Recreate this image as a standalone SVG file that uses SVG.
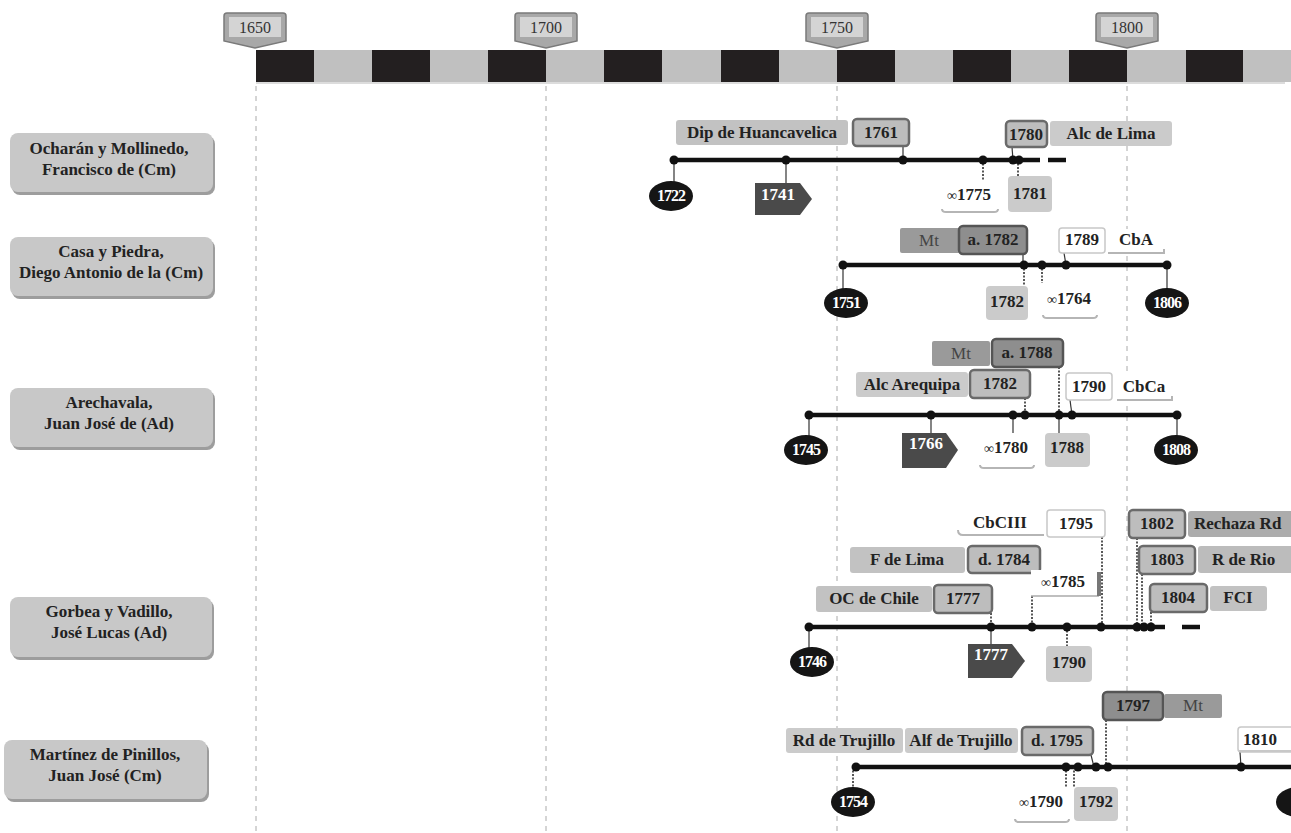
<svg xmlns="http://www.w3.org/2000/svg" width="1291" height="833" viewBox="0 0 1291 833" font-family="'Liberation Serif', 'Times New Roman', 'DejaVu Serif', serif">
<style>
text{font-family:'Liberation Serif','Times New Roman','DejaVu Serif',serif;font-weight:bold;font-size:17px;fill:#222;text-anchor:middle}
.nm{font-size:17px}
.tag{font-weight:normal;font-size:16px;fill:#333}
.w{fill:#fff}
.el{font-size:16px;letter-spacing:-1px}
.st{text-anchor:start}
.mt{fill:#444;font-weight:normal}
.inf{font-size:14px;font-weight:normal}
.lg{fill:#cbcbcb}
.lg2{fill:#c2c2c2}
.md{fill:#9a9a9a}
.bx{fill:#bdbdbd;stroke:#6a6a6a;stroke-width:2.5}
.dk{fill:#8e8e8e;stroke:#555;stroke-width:2.5}
.wb{fill:#fff;stroke:#c8c8c8;stroke-width:1.5}
.wh{fill:#fff}
.sh{stroke:#b5b5b5;stroke-width:2;fill:none}
.ln{stroke:#111;stroke-width:4.5}
.dot{fill:#111}
.c{stroke:#333;stroke-width:1.2}
.cd{stroke:#222;stroke-width:1.5;stroke-dasharray:2 1.5}
.grid{stroke:#aaa;stroke-width:1;stroke-dasharray:5 5}
.ell{fill:#151515}
.arr{fill:#4a4a4a}
.nb{fill:#c8c8c8}
.nbs{fill:#9d9d9d}
</style>

<g id="axis">
<rect x="256" y="50" width="1035" height="32" fill="#c0c0c0"/>
<g fill="#231f20">
<rect x="256" y="50" width="58" height="32"/>
<rect x="372" y="50" width="58" height="32"/>
<rect x="488" y="50" width="58" height="32"/>
<rect x="604" y="50" width="58" height="32"/>
<rect x="721" y="50" width="58" height="32"/>
<rect x="837" y="50" width="58" height="32"/>
<rect x="953" y="50" width="58" height="32"/>
<rect x="1069" y="50" width="58" height="32"/>
<rect x="1186" y="50" width="57" height="32"/>
</g>
<line x1="256" y1="83" x2="1285" y2="83" stroke="#d0d0d0" stroke-width="1.5"/>
<g class="grid">
<line x1="256" y1="86" x2="256" y2="833"/>
<line x1="546" y1="86" x2="546" y2="833"/>
<line x1="837" y1="86" x2="837" y2="833"/>
<line x1="1127" y1="86" x2="1127" y2="833"/>
</g>
<g id="tag1650"><path d="M224,16 Q224,13 227,13 L283,13 Q286,13 286,16 L286,41 L255,48 L224,41 Z" fill="#a8a8a8" stroke="#7a7a7a" stroke-width="1.5"/><rect x="229" y="17" width="52" height="20" fill="#d4d4d4"/><text class="tag" x="255" y="33">1650</text></g>
<g id="tag1700"><path d="M515,16 Q515,13 518,13 L574,13 Q577,13 577,16 L577,41 L546,48 L515,41 Z" fill="#a8a8a8" stroke="#7a7a7a" stroke-width="1.5"/><rect x="520" y="17" width="52" height="20" fill="#d4d4d4"/><text class="tag" x="546" y="33">1700</text></g>
<g id="tag1750"><path d="M806,16 Q806,13 809,13 L865,13 Q868,13 868,16 L868,41 L837,48 L806,41 Z" fill="#a8a8a8" stroke="#7a7a7a" stroke-width="1.5"/><rect x="811" y="17" width="52" height="20" fill="#d4d4d4"/><text class="tag" x="837" y="33">1750</text></g>
<g id="tag1800"><path d="M1096,16 Q1096,13 1099,13 L1155,13 Q1158,13 1158,16 L1158,41 L1127,48 L1096,41 Z" fill="#a8a8a8" stroke="#7a7a7a" stroke-width="1.5"/><rect x="1101" y="17" width="52" height="20" fill="#d4d4d4"/><text class="tag" x="1127" y="33">1800</text></g>
</g>

<g id="name1">
<rect class="nbs" x="12" y="136" width="203" height="59" rx="8"/>
<rect class="nb" x="10" y="133" width="203" height="59" rx="8"/>
<text class="nm" x="109" y="154">Ocharán y Mollinedo,</text>
<text class="nm" x="109" y="175">Francisco de (Cm)</text>
</g>
<g id="name2">
<rect class="nbs" x="12" y="240" width="203" height="59" rx="8"/>
<rect class="nb" x="10" y="237" width="203" height="59" rx="8"/>
<text class="nm" x="111" y="257">Casa y Piedra,</text>
<text class="nm" x="111" y="278">Diego Antonio de la (Cm)</text>
</g>
<g id="name3">
<rect class="nbs" x="12" y="391" width="203" height="59" rx="8"/>
<rect class="nb" x="10" y="388" width="203" height="59" rx="8"/>
<text class="nm" x="109" y="408">Arechavala,</text>
<text class="nm" x="109" y="429">Juan José de (Ad)</text>
</g>
<g id="name4">
<rect class="nbs" x="12" y="600" width="202" height="60" rx="8"/>
<rect class="nb" x="10" y="597" width="202" height="60" rx="8"/>
<text class="nm" x="109" y="617">Gorbea y Vadillo,</text>
<text class="nm" x="109" y="638">José Lucas (Ad)</text>
</g>
<g id="name5">
<rect class="nbs" x="6" y="743" width="203" height="59" rx="8"/>
<rect class="nb" x="4" y="740" width="203" height="59" rx="8"/>
<text class="nm" x="105" y="760">Martínez de Pinillos,</text>
<text class="nm" x="105" y="781">Juan José (Cm)</text>
</g>

<g id="connectors">
<line class="ln" x1="674" y1="160" x2="1040" y2="160"/>
<line class="ln" x1="1048" y1="160" x2="1066" y2="160"/>
<line class="c" x1="674" y1="160" x2="674" y2="182"/>
<line class="c" x1="786" y1="160" x2="786" y2="184"/>
<line class="c" x1="903" y1="146" x2="903" y2="160"/>
<line class="c" x1="1012" y1="147" x2="1013" y2="160"/>
<line class="cd" x1="983" y1="160" x2="983" y2="180"/>
<line class="cd" x1="1018" y1="160" x2="1018" y2="176"/>
<line class="ln" x1="843" y1="265" x2="1167" y2="265"/>
<line class="c" x1="843" y1="265" x2="843" y2="290"/>
<line class="c" x1="1023" y1="254" x2="1023" y2="265"/>
<line class="cd" x1="1024" y1="265" x2="1024" y2="286"/>
<line class="cd" x1="1042" y1="265" x2="1042" y2="283"/>
<line class="c" x1="1064" y1="253" x2="1066" y2="265"/>
<line class="c" x1="1167" y1="265" x2="1167" y2="290"/>
<line class="ln" x1="809" y1="415" x2="1177" y2="415"/>
<line class="c" x1="809" y1="415" x2="809" y2="438"/>
<line class="c" x1="931" y1="415" x2="931" y2="433"/>
<line class="c" x1="1013" y1="415" x2="1013" y2="433"/>
<line class="cd" x1="1025" y1="398" x2="1025" y2="415"/>
<line class="cd" x1="1059" y1="367" x2="1059" y2="415"/>
<line class="c" x1="1059" y1="415" x2="1059" y2="433"/>
<line class="c" x1="1070" y1="400" x2="1072" y2="415"/>
<line class="c" x1="1177" y1="415" x2="1177" y2="438"/>
<line class="ln" x1="809" y1="627" x2="1165" y2="627"/>
<line class="ln" x1="1182" y1="627" x2="1200" y2="627"/>
<line class="c" x1="809" y1="627" x2="809" y2="650"/>
<line class="cd" x1="991" y1="613" x2="991" y2="627"/>
<line class="c" x1="991" y1="627" x2="991" y2="644"/>
<line class="cd" x1="1032" y1="596" x2="1032" y2="627"/>
<line class="cd" x1="1067" y1="627" x2="1067" y2="646"/>
<line class="cd" x1="1102" y1="537" x2="1102" y2="627"/>
<line class="cd" x1="1137" y1="538" x2="1137" y2="627"/>
<line class="cd" x1="1142" y1="574" x2="1142" y2="627"/>
<line class="cd" x1="1151" y1="612" x2="1151" y2="627"/>
<line class="ln" x1="856" y1="767" x2="1291" y2="767"/>
<line class="cd" x1="853" y1="767" x2="853" y2="792"/>
<line class="cd" x1="1066" y1="767" x2="1066" y2="787"/>
<line class="cd" x1="1074" y1="767" x2="1074" y2="787"/>
<line class="c" x1="1091" y1="755" x2="1094" y2="767"/>
<line class="cd" x1="1106" y1="720" x2="1106" y2="767"/>
<line class="c" x1="1240" y1="752" x2="1241" y2="767"/>
</g>

<g id="dots">
<circle class="dot" cx="674" cy="160" r="4.5"/><circle class="dot" cx="786" cy="160" r="4.5"/><circle class="dot" cx="903" cy="160" r="4.5"/><circle class="dot" cx="983" cy="160" r="4.5"/><circle class="dot" cx="1013" cy="160" r="4.5"/><circle class="dot" cx="1019" cy="160" r="4.5"/>
<circle class="dot" cx="843" cy="265" r="4.5"/><circle class="dot" cx="1024" cy="265" r="4.5"/><circle class="dot" cx="1042" cy="265" r="4.5"/><circle class="dot" cx="1066" cy="265" r="4.5"/><circle class="dot" cx="1167" cy="265" r="4.5"/>
<circle class="dot" cx="809" cy="415" r="4.5"/><circle class="dot" cx="931" cy="415" r="4.5"/><circle class="dot" cx="1013" cy="415" r="4.5"/><circle class="dot" cx="1025" cy="415" r="4.5"/><circle class="dot" cx="1059" cy="415" r="4.5"/><circle class="dot" cx="1072" cy="415" r="4.5"/><circle class="dot" cx="1177" cy="415" r="4.5"/>
<circle class="dot" cx="809" cy="627" r="4.5"/><circle class="dot" cx="991" cy="627" r="4.5"/><circle class="dot" cx="1032" cy="627" r="4.5"/><circle class="dot" cx="1067" cy="627" r="4.5"/><circle class="dot" cx="1101" cy="627" r="4.5"/><circle class="dot" cx="1137" cy="627" r="4.5"/><circle class="dot" cx="1144" cy="627" r="4.5"/><circle class="dot" cx="1151" cy="627" r="4.5"/>
<circle class="dot" cx="856" cy="767" r="4.5"/><circle class="dot" cx="1066" cy="767" r="4.5"/><circle class="dot" cx="1078" cy="767" r="4.5"/><circle class="dot" cx="1096" cy="767" r="4.5"/><circle class="dot" cx="1108" cy="767" r="4.5"/><circle class="dot" cx="1241" cy="767" r="4.5"/>
</g>

<g id="r1-dip"><rect class="lg2" x="676" y="120" width="172" height="25" rx="3"/><text x="762" y="138">Dip de Huancavelica</text></g>
<g id="r1-1761"><rect class="bx" x="853" y="119" width="56" height="27" rx="4"/><text x="881" y="138">1761</text></g>
<g id="r1-1780"><rect class="bx" x="1006" y="121" width="41" height="26" rx="4"/><text x="1026" y="140">1780</text></g>
<g id="r1-alc"><rect class="lg" x="1050" y="121" width="122" height="25" rx="3"/><text x="1111" y="139">Alc de Lima</text></g>
<g id="r1-1722"><ellipse class="ell" cx="671" cy="196" rx="22" ry="15"/><text class="w el" x="671" y="201">1722</text></g>
<g id="r1-1741"><polygon class="arr" points="755,183 800,183 812,199 800,215 755,215"/><text class="w" x="778" y="200">1741</text></g>
<g id="r1-m1775"><rect class="wh" x="940" y="180" width="58" height="30" rx="3"/><path class="sh" d="M942,209 Q942,212 946,212 L994,212 Q998,212 998,209"/><text x="969" y="200"><tspan class="inf">∞</tspan>1775</text></g>
<g id="r1-1781"><rect class="lg" x="1008" y="176" width="44" height="36" rx="4"/><text x="1030" y="199">1781</text></g>

<g id="r2-mt"><rect class="md" x="900" y="228" width="60" height="25" rx="2"/><text class="mt" x="929" y="246">Mt</text></g>
<g id="r2-a1782"><rect class="dk" x="959" y="226" width="68" height="28" rx="4"/><text x="993" y="245">a. 1782</text></g>
<g id="r2-1789"><rect class="wb" x="1059" y="228" width="46" height="25" rx="3"/><text x="1082" y="245">1789</text></g>
<g id="r2-cba"><rect class="wh" x="1108" y="229" width="56" height="24"/><path class="sh" d="M1108,253 L1164,253 L1164,249"/><text x="1136" y="245">CbA</text></g>
<g id="r2-1751"><ellipse class="ell" cx="846" cy="303" rx="22" ry="15"/><text class="w el" x="846" y="308">1751</text></g>
<g id="r2-1782"><rect class="lg" x="986" y="286" width="42" height="34" rx="4"/><text x="1007" y="307">1782</text></g>
<g id="r2-m1764"><rect class="wh" x="1041" y="283" width="56" height="34" rx="3"/><path class="sh" d="M1043,315 Q1043,318 1047,318 L1093,318 Q1097,318 1097,315"/><text x="1069" y="304"><tspan class="inf">∞</tspan>1764</text></g>
<g id="r2-1806"><ellipse class="ell" cx="1167" cy="303" rx="22" ry="15"/><text class="w el" x="1167" y="308">1806</text></g>

<g id="r3-mt"><rect class="md" x="932" y="341" width="58" height="25" rx="2"/><text class="mt" x="961" y="359">Mt</text></g>
<g id="r3-a1788"><rect class="dk" x="992" y="339" width="71" height="28" rx="4"/><text x="1027" y="358">a. 1788</text></g>
<g id="r3-alc"><rect class="lg" x="856" y="372" width="112" height="25" rx="3"/><text x="912" y="390">Alc Arequipa</text></g>
<g id="r3-1782"><rect class="bx" x="970" y="370" width="60" height="28" rx="4"/><text x="1000" y="389">1782</text></g>
<g id="r3-1790"><rect class="wb" x="1066" y="373" width="46" height="27" rx="3"/><text x="1089" y="392">1790</text></g>
<g id="r3-cbca"><rect class="wh" x="1117" y="375" width="55" height="25"/><path class="sh" d="M1117,400 L1172,400 L1172,396"/><text x="1144" y="392">CbCa</text></g>
<g id="r3-1745"><ellipse class="ell" cx="806" cy="450" rx="22" ry="15"/><text class="w el" x="806" y="455">1745</text></g>
<g id="r3-1766"><polygon class="arr" points="902,433 946,433 958,450 946,468 902,468"/><text class="w" x="926" y="449">1766</text></g>
<g id="r3-m1780"><rect class="wh" x="978" y="433" width="56" height="34" rx="3"/><path class="sh" d="M980,465 Q980,468 984,468 L1030,468 Q1034,468 1034,465"/><text x="1006" y="453"><tspan class="inf">∞</tspan>1780</text></g>
<g id="r3-1788"><rect class="lg" x="1045" y="433" width="45" height="34" rx="4"/><text x="1067" y="453">1788</text></g>
<g id="r3-1808"><ellipse class="ell" cx="1176" cy="450" rx="22" ry="15"/><text class="w el" x="1176" y="455">1808</text></g>

<g id="r4-cbciii"><rect class="wh" x="958" y="511" width="86" height="24"/><path class="sh" d="M958,530 Q958,535 963,535 L1044,535"/><text x="1000" y="528">CbCIII</text></g>
<g id="r4-1795"><rect class="wb" x="1047" y="510" width="58" height="27" rx="3"/><text x="1076" y="529">1795</text></g>
<g id="r4-flima"><rect class="lg2" x="850" y="547" width="115" height="26" rx="3"/><text x="907" y="565">F de Lima</text></g>
<g id="r4-d1784"><rect class="bx" x="968" y="546" width="72" height="27" rx="4"/><text x="1004" y="565">d. 1784</text></g>
<g id="r4-m1785"><rect class="wh" x="1031" y="570" width="68" height="26"/><path d="M1031,596 L1099,596" stroke="#aaa" stroke-width="1.5"/><rect x="1097" y="572" width="4" height="24" fill="#777"/><text x="1063" y="587"><tspan class="inf">∞</tspan>1785</text></g>
<g id="r4-occhile"><rect class="lg2" x="816" y="586" width="116" height="26" rx="3"/><text x="874" y="604">OC de Chile</text></g>
<g id="r4-1777"><rect class="bx" x="934" y="585" width="58" height="28" rx="4"/><text x="963" y="604">1777</text></g>
<g id="r4-1802"><rect class="bx" x="1129" y="510" width="56" height="28" rx="4"/><text x="1157" y="529">1802</text></g>
<g id="r4-rechaza"><rect fill="#acacac" x="1188" y="511" width="110" height="26" rx="3"/><text class="st" x="1194" y="529">Rechaza Rd</text></g>
<g id="r4-1803"><rect class="bx" x="1139" y="546" width="56" height="28" rx="4"/><text x="1167" y="565">1803</text></g>
<g id="r4-rrio"><rect fill="#bcbcbc" x="1198" y="546" width="100" height="27" rx="3"/><text class="st" x="1212" y="565">R de Rio</text></g>
<g id="r4-1804"><rect class="bx" x="1150" y="584" width="57" height="28" rx="4"/><text x="1178" y="603">1804</text></g>
<g id="r4-fci"><rect class="lg2" x="1210" y="586" width="57" height="25" rx="3"/><text x="1238" y="603">FCI</text></g>
<g id="r4-1746"><ellipse class="ell" cx="812" cy="662" rx="22" ry="15"/><text class="w el" x="812" y="667">1746</text></g>
<g id="r4-1777b"><polygon class="arr" points="968,644 1012,644 1025,661 1012,678 968,678"/><text class="w" x="991" y="660">1777</text></g>
<g id="r4-1790"><rect class="lg" x="1046" y="646" width="46" height="36" rx="4"/><text x="1069" y="668">1790</text></g>

<g id="r5-1797"><rect class="dk" x="1103" y="692" width="60" height="28" rx="4"/><text x="1133" y="711">1797</text></g>
<g id="r5-mt"><rect class="md" x="1164" y="694" width="58" height="24" rx="2"/><text class="mt" x="1193" y="711">Mt</text></g>
<g id="r5-rd"><rect class="lg" x="786" y="728" width="117" height="25" rx="3"/><text x="844" y="746">Rd de Trujillo</text></g>
<g id="r5-alf"><rect class="lg" x="905" y="728" width="113" height="25" rx="3"/><text x="961" y="746">Alf de Trujillo</text></g>
<g id="r5-d1795"><rect class="bx" x="1022" y="727" width="71" height="28" rx="4"/><text x="1057" y="746">d. 1795</text></g>
<g id="r5-1810"><rect class="wb" x="1238" y="727" width="60" height="25" rx="3"/><path d="M1239,751 L1291,751" stroke="#c8c8c8" stroke-width="2"/><text class="st" x="1243" y="745">1810</text></g>
<g id="r5-1754"><ellipse class="ell" cx="853" cy="802" rx="22" ry="15"/><text class="w el" x="853" y="807">1754</text></g>
<g id="r5-m1790"><rect class="wh" x="1013" y="787" width="56" height="34" rx="3"/><path class="sh" d="M1015,819 Q1015,822 1019,822 L1065,822 Q1069,822 1069,819"/><text x="1041" y="807"><tspan class="inf">∞</tspan>1790</text></g>
<g id="r5-1792"><rect class="lg" x="1074" y="787" width="44" height="34" rx="4"/><text x="1096" y="807">1792</text></g>
<g id="r5-end"><ellipse class="ell" cx="1298" cy="802" rx="22" ry="15"/></g>
</svg>
